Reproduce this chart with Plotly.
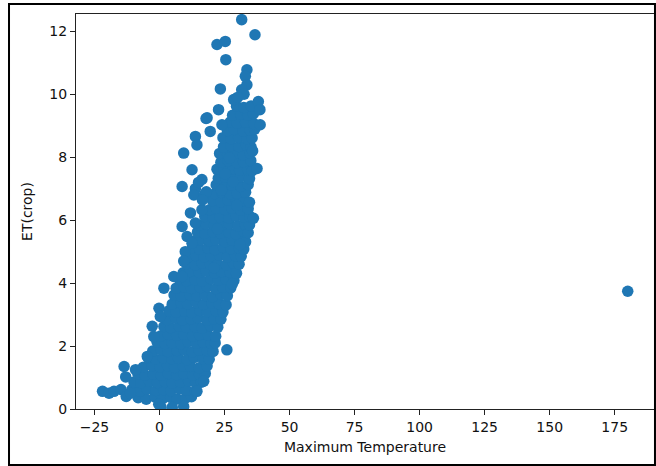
import plotly.graph_objects as go

# Scatter values (Maximum Temperature vs ET(crop))
max_temp = [
    -8.2, -5.1, -1.8, 1.2, 4.3, 6.8, 10.1, 12.3,
    -10.6, -7.4, -4.7, -1.3, 1.6, 4.4, 7.7, 10.3, 13.8,
    -9.8, -7.2, -3.9, -0.8, 2.2, 4.9, 8.1, 11.2, 13.9, 16.1,
    -8.3, -5.6, -2.4, 0.7, 3.4, 6.6, 9.3, 12.7, 15.4, 17.6,
    -6.2, -2.9, 0.2, 3.1, 5.8, 9.2, 11.9, 15.2, 18.3,
    -4.3, -1.6, 1.4, 4.7, 7.3, 10.6, 13.4, 16.7, 19.1,
    -2.6, 0.6, 3.3, 6.7, 9.4, 12.6, 15.3, 18.4, 20.6,
    -0.9, 2.1, 4.8, 8.2, 10.9, 14.1, 16.8, 19.8, 21.4,
    0.6, 3.4, 6.6, 9.3, 12.7, 15.4, 18.6, 21.6,
    1.7, 4.3, 7.6, 10.4, 13.7, 16.3, 19.6, 22.4,
    2.9, 6.2, 8.8, 12.1, 14.8, 18.2, 20.9, 23.6,
    3.6, 6.4, 9.7, 12.4, 15.6, 18.3, 21.7, 24.4,
    4.9, 8.2, 10.8, 14.2, 16.9, 20.1, 22.8, 25.6,
    5.6, 8.4, 11.7, 14.3, 17.6, 20.4, 23.7, 26.1,
    6.4, 9.6, 12.3, 15.7, 18.4, 21.6, 24.3, 27.4,
    7.6, 10.4, 13.6, 16.3, 19.7, 22.4, 25.6, 28.6,
    9.1, 11.8, 15.2, 17.9, 21.2, 23.8, 27.1, 29.6,
    10.4, 13.7, 16.4, 19.6, 22.3, 25.7, 28.4, 30.6,
    11.2, 13.9, 17.2, 19.8, 23.1, 25.9, 29.2, 31.4,
    12.6, 15.4, 18.7, 21.3, 24.6, 27.4, 30.6, 32.4,
    13.2, 15.9, 19.1, 21.8, 25.2, 27.9, 31.1, 33.1,
    14.6, 17.4, 20.6, 23.4, 26.7, 29.3, 32.4, 34.1,
    15.2, 17.9, 21.1, 24.2, 26.8, 30.1, 32.9, 34.6,
    17.4, 20.6, 23.3, 26.6, 29.4, 32.6, 34.7,
    19.2, 21.9, 25.1, 27.8, 31.2, 34.1,
    20.4, 23.6, 26.3, 29.6, 32.4, 34.6,
    21.2, 23.9, 27.2, 29.8, 33.1,
    21.8, 25.1, 27.9, 31.2, 34.1,
    22.6, 25.4, 28.7, 31.4, 34.6,
    22.1, 24.9, 28.2, 30.8, 33.9, 35.6,
    23.6, 26.4, 29.7, 32.3, 35.1,
    23.1, 26.2, 28.9, 32.1, 34.8,
    24.6, 27.4, 30.6, 33.4, 35.2,
    24.4, 27.6, 30.4, 33.7, 35.6,
    26.1, 28.8, 32.2, 34.9, 36.6,
    27.2, 29.9, 33.1, 36.2,
    28.1, 31.2, 33.9, 36.1,
    29.6, 32.4, 35.2,
    -21.9, -19.4, -17.5, -14.8, -13.6, -13.0, -12.8, -11.2, -9.2, -4.7, -2.8, -2.2,
    -0.2, 0.3, 1.7, 5.5, 8.7, -0.3, 0.6, 4.9, 9.3, 14.4, 17.0, 25.9,
    9.3, 13.8, 14.4, 12.5, 8.7, 16.3, 13.8, 13.2, 17.2, 11.9,
    8.7, 10.6, 12.5, 9.9, 9.3, 16.3, 13.8, 15.0, 18.0, 16.5,
    18.3, 19.5, 22.7, 24.0, 17.9, 22.1, 25.3, 25.5, 31.6, 36.7, 33.6, 33.0, 33.6,
    23.4, 31.6, 32.5, 28.5, 30.0, 38.0, 38.6, 38.7, 37.5, 36.1, 35.8, 180.0,
    20.9, 22.3, 23.8, 25.3, 26.9, 28.3, 29.7, 31.0, 28.0,
]

et_crop = [
    0.36, 0.31, 0.38, 0.33, 0.37, 0.32, 0.35, 0.39,
    0.62, 0.57, 0.63, 0.59, 0.61, 0.58, 0.64, 0.60, 0.57,
    0.86, 0.83, 0.88, 0.84, 0.87, 0.82, 0.86, 0.89, 0.83, 0.85,
    1.12, 1.08, 1.11, 1.07, 1.13, 1.09, 1.12, 1.08, 1.10, 1.13,
    1.33, 1.37, 1.34, 1.38, 1.32, 1.36, 1.35, 1.31, 1.37,
    1.62, 1.58, 1.63, 1.59, 1.61, 1.57, 1.64, 1.60, 1.58,
    1.84, 1.88, 1.83, 1.86, 1.89, 1.82, 1.87, 1.85, 1.83,
    2.12, 2.08, 2.11, 2.07, 2.13, 2.09, 2.12, 2.08, 2.10,
    2.33, 2.37, 2.34, 2.38, 2.32, 2.36, 2.35, 2.31,
    2.62, 2.58, 2.63, 2.59, 2.61, 2.57, 2.64, 2.60,
    2.84, 2.88, 2.83, 2.86, 2.89, 2.82, 2.87, 2.85,
    3.12, 3.08, 3.11, 3.07, 3.13, 3.09, 3.12, 3.08,
    3.33, 3.37, 3.34, 3.38, 3.32, 3.36, 3.35, 3.31,
    3.62, 3.58, 3.63, 3.59, 3.61, 3.57, 3.64, 3.60,
    3.84, 3.88, 3.83, 3.86, 3.89, 3.82, 3.87, 3.85,
    4.12, 4.08, 4.11, 4.07, 4.13, 4.09, 4.12, 4.08,
    4.33, 4.37, 4.34, 4.38, 4.32, 4.36, 4.35, 4.31,
    4.62, 4.58, 4.63, 4.59, 4.61, 4.57, 4.64, 4.60,
    4.84, 4.88, 4.83, 4.86, 4.89, 4.82, 4.87, 4.85,
    5.12, 5.08, 5.11, 5.07, 5.13, 5.09, 5.12, 5.08,
    5.33, 5.37, 5.34, 5.38, 5.32, 5.36, 5.35, 5.31,
    5.62, 5.58, 5.63, 5.59, 5.61, 5.57, 5.64, 5.60,
    5.84, 5.88, 5.83, 5.86, 5.89, 5.82, 5.87, 5.85,
    6.12, 6.08, 6.11, 6.07, 6.13, 6.09, 6.12,
    6.33, 6.37, 6.34, 6.38, 6.32, 6.36,
    6.62, 6.58, 6.63, 6.59, 6.61, 6.57,
    6.84, 6.88, 6.83, 6.86, 6.89,
    7.12, 7.08, 7.11, 7.07, 7.13,
    7.33, 7.37, 7.34, 7.38, 7.32,
    7.62, 7.58, 7.63, 7.59, 7.61, 7.57,
    7.84, 7.88, 7.83, 7.86, 7.89,
    8.12, 8.08, 8.11, 8.07, 8.13,
    8.33, 8.37, 8.34, 8.38, 8.32,
    8.62, 8.58, 8.63, 8.59, 8.61,
    8.84, 8.88, 8.83, 8.86, 8.89,
    9.12, 9.08, 9.11, 9.07,
    9.33, 9.37, 9.34, 9.38,
    9.62, 9.58, 9.63,
    0.56, 0.50, 0.56, 0.62, 1.35, 1.02, 0.40, 0.50, 1.25, 1.67, 2.63, 2.30,
    3.20, 2.94, 3.84, 4.21, 4.21, 0.15, 0.05, 0.05, 0.08, 0.56, 0.88, 1.88,
    8.13, 8.66, 8.39, 7.60, 7.07, 7.29, 7.00, 6.80, 6.80, 6.23,
    5.80, 5.48, 5.27, 5.00, 4.70, 6.33, 5.91, 7.20, 6.90, 6.64,
    9.25, 8.82, 9.51, 9.03, 9.23, 11.58, 11.68, 11.10, 12.37, 11.89, 10.78, 10.57, 10.30,
    10.17, 10.14, 10.00, 9.83, 9.90, 9.77, 9.51, 9.03, 7.64, 6.06, 8.20, 3.74,
    4.48, 5.72, 6.95, 7.47, 7.98, 7.22, 6.47, 5.23, 3.97,
]

x_tick_vals = [-25, 0, 25, 50, 75, 100, 125, 150, 175]
x_tick_text = ["\u221225", "0", "25", "50", "75", "100", "125", "150", "175"]
y_tick_vals = [0, 2, 4, 6, 8, 10, 12]
y_tick_text = ["0", "2", "4", "6", "8", "10", "12"]

n = min(len(max_temp), len(et_crop))

FONT = "DejaVu Sans"

fig = go.Figure(
    go.Scatter(
        x=max_temp[:n],
        y=et_crop[:n],
        mode="markers",
        marker=dict(color="#1f77b4", size=11.5, line=dict(width=0)),
        hoverinfo="skip",
    )
)

axis_common = dict(
    showgrid=False,
    zeroline=False,
    showline=True,
    linecolor="#222222",
    linewidth=1.1,
    mirror=True,
    ticks="outside",
    ticklen=5,
    tickwidth=1.1,
    tickcolor="#222222",
    tickfont=dict(family=FONT, size=14, color="#111111"),
)

fig.update_layout(
    width=656,
    height=466,
    margin=dict(l=76, r=2, t=14, b=57),
    paper_bgcolor="white",
    plot_bgcolor="white",
    showlegend=False,
    xaxis=dict(
        range=[-32.1, 190.1],
        tickvals=x_tick_vals,
        ticktext=x_tick_text,
        title=dict(text="Maximum Temperature", font=dict(family=FONT, size=14, color="#111111"), standoff=8),
        **axis_common,
    ),
    yaxis=dict(
        range=[0, 12.55],
        tickvals=y_tick_vals,
        ticktext=y_tick_text,
        title=dict(text="ET(crop)", font=dict(family=FONT, size=14, color="#111111"), standoff=13),
        **axis_common,
    ),
    shapes=[
        dict(
            type="rect",
            xref="paper",
            yref="paper",
            x0=-0.1159,
            x1=1.0017,
            y0=-0.1418,
            y1=1.0253,
            line=dict(color="black", width=2),
            fillcolor="rgba(0,0,0,0)",
            layer="above",
        )
    ],
)

fig.write_html("out.html")
